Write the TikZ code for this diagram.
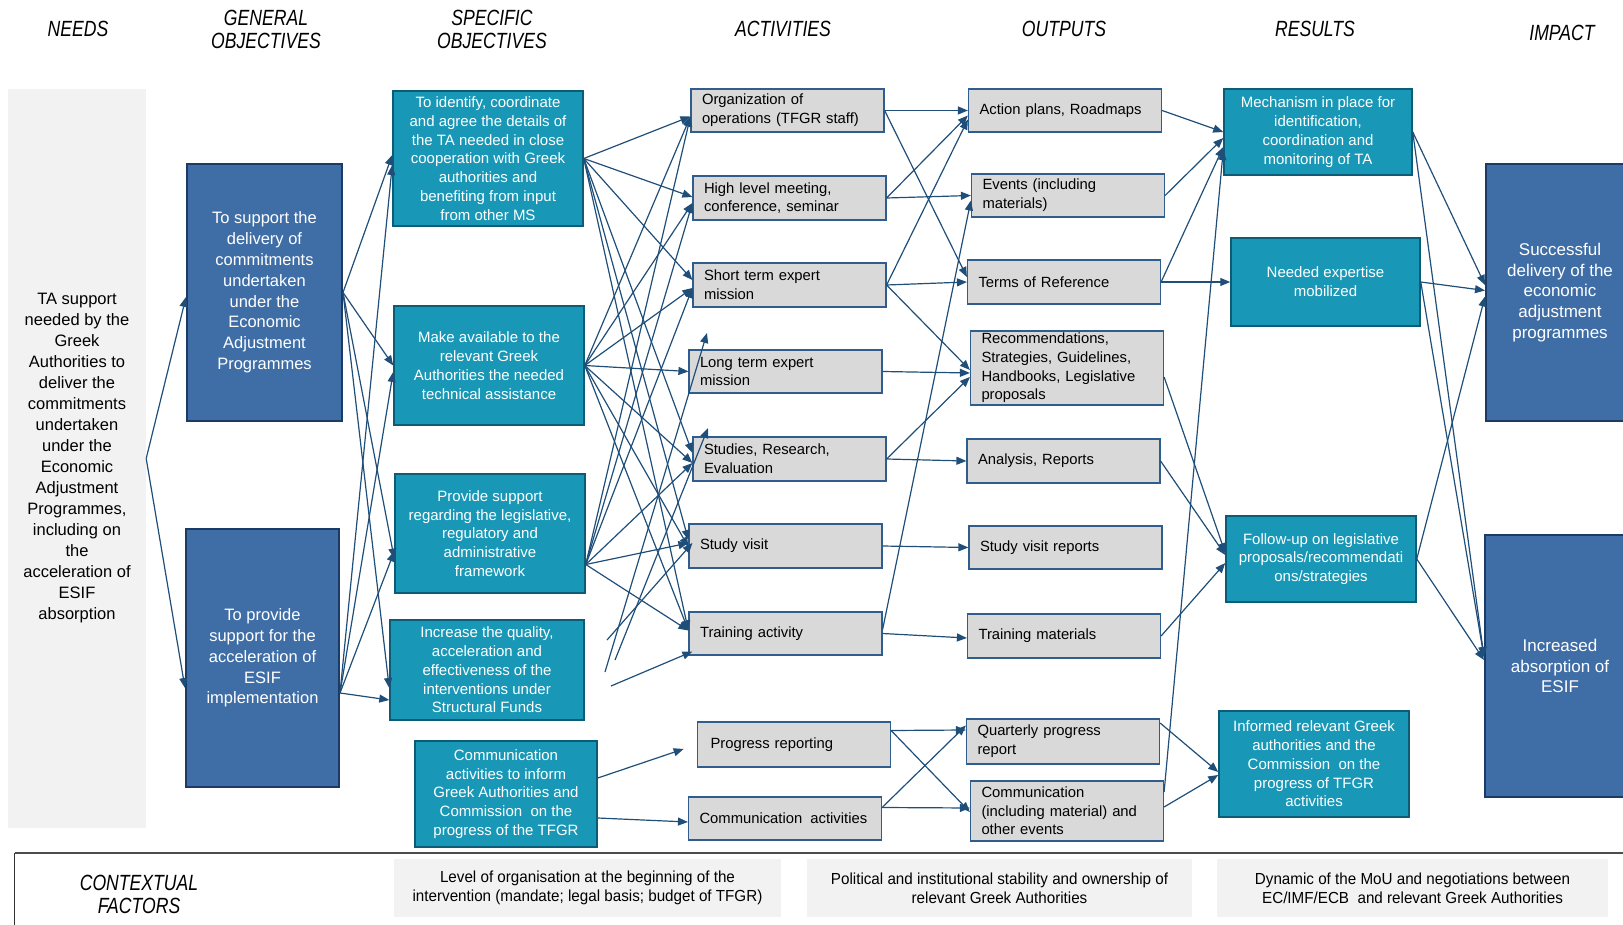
\documentclass[tikz,border=0pt]{standalone}
\usepackage{fontspec}
\setmainfont{Liberation Sans}
\newfontfamily\hdrfont[FakeStretch=0.8]{Liberation Sans}
\newfontfamily\cffont[FakeStretch=0.95]{Liberation Sans}
\usetikzlibrary{arrows.meta}
\definecolor{needsgray}{HTML}{F2F2F2}
\definecolor{goblue}{HTML}{3F6EA7}
\definecolor{goedge}{HTML}{1B3A66}
\definecolor{soteal}{HTML}{1898B6}
\definecolor{soedge}{HTML}{0D5C77}
\definecolor{actgray}{HTML}{D9D9D9}
\definecolor{actedge}{HTML}{2F5E8E}
\definecolor{arr}{HTML}{1F4E79}
\begin{document}
\begin{tikzpicture}[x=1pt,y=-1pt,
  hdr/.style={align=center, font=\hdrfont\itshape\fontsize{22}{23}\selectfont, inner sep=0pt},
  needsbox/.style={fill=needsgray, draw=none, align=center, inner sep=0pt, font=\fontsize{16.5}{21}\selectfont},
  gobox/.style={fill=goblue, draw=goedge, line width=2pt, text=white, align=center, inner sep=0pt, font=\fontsize{16.5}{20.8}\selectfont},
  impbox/.style={fill=goblue, draw=goedge, line width=2pt, text=white, align=center, inner sep=0pt, font=\fontsize{17}{20.8}\selectfont},
  sobox/.style={fill=soteal, draw=soedge, line width=1.5pt, text=white, align=center, inner sep=0pt, font=\fontsize{15}{18.8}\selectfont},
  actbox/.style={fill=actgray, draw=actedge, line width=1.2pt, align=left, text width=171pt, inner xsep=11pt, inner ysep=0pt, minimum width=193pt, font=\fontsize{14.8}{18.7}\selectfont},
  cfbox/.style={fill=needsgray, draw=none, align=center, inner sep=0pt, font=\cffont\fontsize{16}{18.6}\selectfont},
  conn/.style={draw=arr, line width=1.2pt, -{Triangle[length=10pt,width=8pt]}}
]
\useasboundingbox (0,0) rectangle (1623,925);

% headers
\node[hdr] (hN) at (78,29) {NEEDS};
\node[hdr] (hG) at (266,29) {GENERAL\\OBJECTIVES};
\node[hdr] (hS) at (492,29) {SPECIFIC\\OBJECTIVES};
\node[hdr] (hA) at (783,29) {ACTIVITIES};
\node[hdr] (hO) at (1064,29) {OUTPUTS};
\node[hdr] (hR) at (1315,29) {RESULTS};
\node[hdr] (hI) at (1562,33) {IMPACT};

% needs
\node[needsbox, minimum width=138pt, minimum height=739pt] (N) at (77,458.5) {TA support\\needed by the\\Greek\\Authorities to\\deliver the\\commitments\\undertaken\\under the\\Economic\\Adjustment\\Programmes,\\including on\\the\\acceleration of\\ESIF\\absorption};

% general objectives
\node[gobox, minimum width=155pt, minimum height=257pt] (G1) at (264.5,292.5) {To support the\\delivery of\\commitments\\undertaken\\under the\\Economic\\Adjustment\\Programmes};
\node[gobox, minimum width=153pt, minimum height=258pt] (G2) at (262.5,658) {To provide\\support for the\\acceleration of\\ESIF\\implementation};

% specific objectives
\node[sobox, minimum width=190pt, minimum height=135pt] (S1) at (488,158.5) {To identify, coordinate\\and agree the details of\\the TA needed in close\\cooperation with Greek\\authorities and\\benefiting from input\\from other MS};
\node[sobox, minimum width=190pt, minimum height=119pt] (S2) at (489,365.5) {Make available to the\\relevant Greek\\Authorities the needed\\technical assistance};
\node[sobox, minimum width=190pt, minimum height=119pt] (S3) at (490,533.5) {Provide support\\regarding the legislative,\\regulatory and\\administrative\\framework};
\node[sobox, minimum width=194pt, minimum height=100pt] (S4) at (487,670) {Increase the quality,\\acceleration and\\effectiveness of the\\interventions under\\Structural Funds};
\node[sobox, minimum width=182pt, minimum height=106pt] (S5) at (506,794) {Communication\\activities to inform\\Greek Authorities and\\Commission\ \ on the\\progress of the TFGR};

% activities
\node[actbox, minimum height=43pt] (A1) at (787.5,110.5) {Organization of\\operations (TFGR\ staff)};
\node[actbox, minimum height=44pt] (A2) at (789.5,198) {High\ level meeting,\\conference, seminar};
\node[actbox, minimum height=44pt] (A3) at (789.5,285) {Short term expert\\mission};
\node[actbox, minimum height=43pt] (A4) at (785.5,371.5) {Long term expert\\mission};
\node[actbox, minimum height=44pt] (A5) at (789.5,459) {Studies, Research,\\Evaluation};
\node[actbox, minimum height=44pt] (A6) at (785.5,546) {Study visit};
\node[actbox, minimum height=43pt] (A7) at (785.5,633.5) {Training\ activity};
\node[actbox, minimum height=45pt] (A8) at (794,744.5) {\hspace{2pt}Progress reporting};
\node[actbox, minimum height=43pt] (A9) at (785,818.5) {\mbox{Communication\hspace{0.55em}activities}};

% outputs
\node[actbox, minimum height=43pt] (O1) at (1065,110.5) {\mbox{Action plans, Roadmaps}};
\node[actbox, minimum height=43pt] (O2) at (1068,195.5) {Events (including\\materials)};
\node[actbox, minimum height=44pt] (O3) at (1064,282) {Terms of Reference};
\node[actbox, minimum height=74pt] (O4) at (1067,368) {Recommendations,\\Strategies, Guidelines,\\Handbooks, Legislative\\proposals};
\node[actbox, minimum height=44pt] (O5) at (1063.5,461) {Analysis, Reports};
\node[actbox, minimum height=43pt] (O6) at (1065.5,547.5) {Study visit reports};
\node[actbox, minimum height=44pt] (O7) at (1064,636) {Training materials};
\node[actbox, minimum height=45pt] (O8) at (1063,741.5) {Quarterly progress\\report};
\node[actbox, minimum height=60pt] (O9) at (1067,811) {Communication\\(including material) and\\other events};

% results
\node[sobox, minimum width=188pt, minimum height=86pt] (R1) at (1318,132) {Mechanism in place for\\identification,\\coordination and\\monitoring of TA};
\node[sobox, minimum width=189pt, minimum height=88pt] (R2) at (1325.5,282) {Needed expertise\\mobilized};
\node[sobox, minimum width=190pt, minimum height=86pt] (R3) at (1321,559) {Follow-up on legislative\\proposals/recommendati\\ons/strategies};
\node[sobox, minimum width=190pt, minimum height=106pt] (R4) at (1314,764) {Informed relevant Greek\\authorities and the\\Commission\ \ on the\\progress of TFGR\\activities};

% impact
\node[impbox, minimum width=148pt, minimum height=257pt] (I1) at (1560,292.5) {Successful\\delivery of the\\economic\\adjustment\\programmes};
\node[impbox, minimum width=150pt, minimum height=262pt] (I2) at (1560,666) {Increased\\absorption of\\ESIF};

% contextual factors
\draw[line width=1.5pt, color=black!70] (14.5,853) -- (1623,853);
\draw[line width=0.8pt, color=black!80] (14.5,853) -- (14.5,925);
\node[hdr] (hC) at (139,894) {CONTEXTUAL\\FACTORS};
\node[cfbox, minimum width=387pt, minimum height=58pt] (C1) at (587.5,888) {Level of organisation at the beginning of the\\intervention (mandate;\ legal basis;\ budget of TFGR)};
\node[cfbox, minimum width=385pt, minimum height=58pt] (C2) at (999.5,888) {Political\ and institutional stability and ownership of\\relevant Greek Authorities};
\node[cfbox, minimum width=391pt, minimum height=58pt] (C3) at (1412.5,888) {Dynamic of the MoU\ and negotiations between\\EC/IMF/ECB\ \ and relevant Greek Authorities};

% needs -> general objectives
\draw[conn] (N.east) -- ([yshift=-4.5pt]G1.west);
\draw[conn] (N.east) -- ([yshift=-30pt]G2.west);

% general -> specific objectives
\coordinate (g2s) at ([yshift=-35pt]G2.east);
\draw[conn] (G1.east) -- ([yshift=3.5pt]S1.west);
\draw[conn] (G1.east) -- (S2.west);
\draw[conn] (G1.east) -- ([yshift=-25pt]S3.west);
\draw[conn] (G1.east) -- ([yshift=-18pt]S4.west);
\draw[conn] (g2s) -- ([yshift=-6.5pt]S1.west);
\draw[conn] (g2s) -- ([yshift=-6.5pt]S2.west);
\draw[conn] (g2s) -- ([yshift=-18pt]S3.west);
\draw[conn] (g2s) -- ([yshift=-30pt]S4.west);

% specific objectives -> activities
\coordinate (s3s) at ([yshift=-31pt]S3.east);
\foreach \t/\d in {A1/-6,A2/1,A3/5,A5/6,A6/6,A7/3}
  \draw[conn] (S1.east) -- ([yshift=\d pt]\t.west);
\foreach \t/\d in {A1/-6,A2/-5,A3/-3,A4/0,A5/-4,A6/-1,A7/3}
  \draw[conn] (S2.east) -- ([yshift=\d pt]\t.west);
\foreach \t/\d in {A1/-6,A2/-5,A3/-3,A5/-4,A6/3,A7/3}
  \draw[conn] (s3s) -- ([yshift=\d pt]\t.west);
\coordinate (s4a) at (607,640);
\coordinate (s4b) at (605,672);
\coordinate (s4c) at (611,686);
\coordinate (s4d) at (615,660);
\coordinate (f1) at (707,333);
\coordinate (f2) at (708,428);
\draw[conn] (s4a) -- ([yshift=3pt,xshift=4pt]A6.west);
\draw[conn] (s4c) -- ([yshift=-18pt,xshift=4pt]A7.west);
\draw[conn] (s4b) -- (f1);
\draw[conn] (s4d) -- (f2);
\draw[conn, shorten >=14pt] ([yshift=16pt]S5.east) -- (A8.west);
\draw[conn] ([yshift=-24pt]S5.east) -- ([yshift=-3.5pt]A9.west);

% activities -> outputs
\draw[conn] (A1.east) -- (O1.west);
\draw[conn] (A1.east) -- ([yshift=5pt]O3.west);
\draw[conn] (A2.east) -- ([yshift=-5pt]O1.west);
\draw[conn] (A2.east) -- (O2.west);
\draw[conn] (A3.east) -- ([yshift=-9pt]O1.west);
\draw[conn] (A3.east) -- (O3.west);
\draw[conn] (A3.east) -- ([yshift=-2pt]O4.west);
\draw[conn] (A4.east) -- ([yshift=-5pt]O4.west);
\draw[conn] (A5.east) -- ([yshift=-9pt]O4.west);
\draw[conn] (A5.east) -- (O5.west);
\draw[conn] (A6.east) -- (O6.west);
\draw[conn] (A7.east) -- ([yshift=-2pt]O7.west);
\draw[conn] ([yshift=4pt]A7.east) -- ([yshift=-5pt]O2.west);
\draw[conn] ([yshift=14pt]A8.east) -- ([yshift=11.5pt]O8.west);
\draw[conn] ([yshift=14pt]A8.east) -- ([yshift=-1pt]O9.west);
\draw[conn] ([yshift=11pt]A9.east) -- ([yshift=16pt]O8.west);
\draw[conn] ([yshift=11pt]A9.east) -- ([yshift=3pt]O9.west);

% outputs -> results
\draw[conn] (O1.east) -- (R1.west);
\draw[conn] (O2.east) -- ([yshift=-6pt]R1.west);
\draw[conn] (O3.east) -- ([yshift=-15pt]R1.west);
\draw[conn] (O3.east) -- (R2.west);
\draw[conn] ([yshift=-9pt]O4.east) -- ([yshift=6pt]R3.west);
\draw[conn] (O5.east) -- ([yshift=4pt]R3.west);
\draw[conn] (O7.east) -- ([yshift=-4pt]R3.west);
\draw[conn] ([yshift=19pt]O9.east) -- ([yshift=-18pt]R1.west);
\draw[conn] ([yshift=18.5pt]O8.east) -- ([yshift=-8pt]R4.west);
\draw[conn] ([yshift=4pt]O9.east) -- ([yshift=-11pt]R4.west);

% results -> impact
\draw[conn] (R1.east) -- ([yshift=7.5pt]I1.west);
\draw[conn] (R1.east) -- ([yshift=9pt]I2.west);
\draw[conn] (R2.east) -- ([yshift=2pt]I1.west);
\draw[conn] (R2.east) -- ([yshift=9pt]I2.west);
\draw[conn] (R3.east) -- ([yshift=-4pt]I1.west);
\draw[conn] (R3.east) -- ([yshift=6pt]I2.west);
\end{tikzpicture}
\end{document}
